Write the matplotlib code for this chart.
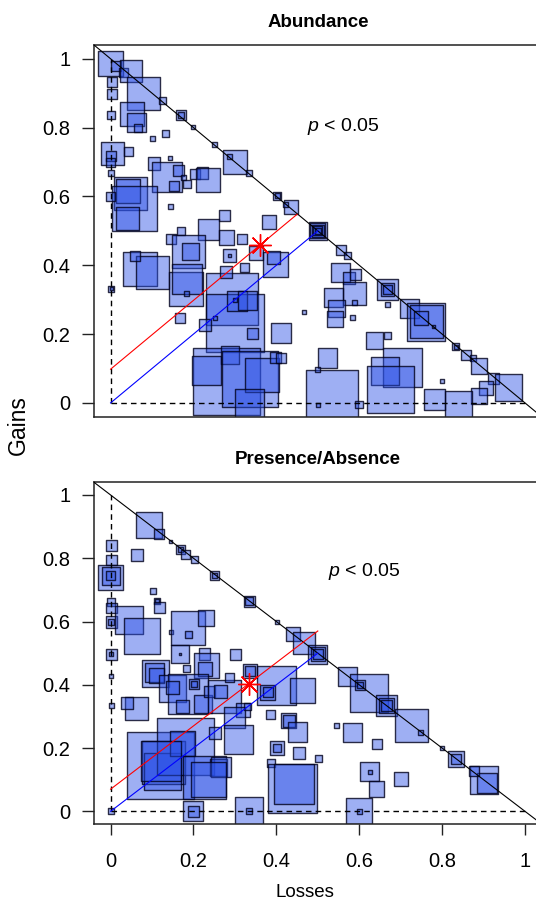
import numpy as np
import matplotlib
matplotlib.use("Agg")
from matplotlib import pyplot as plt

plt.rcParams['font.family'] = ['Liberation Sans', 'DejaVu Sans']
plt.rcParams['mathtext.fontset'] = 'custom'
plt.rcParams['mathtext.it'] = 'Liberation Sans:italic'
plt.rcParams['mathtext.rm'] = 'Liberation Sans'

# Abundance: losses, gains and relative weight of each site pair
ab_loss = [0.001, 0.012, 0.03, 0.049, 0.08, 0.051, 0.063, 0.065, 0.003, 0.003,
           0.002, 0.126, 0.169, 0.169, 0.2, 0.251, 0.301, 0.287, 0.334, 0.132,
           0.102, 0.005, 0.043, 0.002, 0.0, 0.0, 0.144, 0.105, 0.137, 0.165,
           0.175, 0.185, 0.153, 0.204, 0.222, 0.236, 0.048, 0.041, 0.058, 0.04,
           0.0, 0.144, 0.274, 0.236, 0.279, 0.316, 0.169, 0.145, 0.189, 0.194,
           0.071, 0.1, 0.059, 0.181, 0.185, 0.182, 0.168, 0.293, 0.301, 0.304,
           0.33, 0.3, 0.251, 0.227, 0.342, 0.279, 0.322, 0.287, 0.287, 0.351,
           0.28, 0.231, 0.288, 0.337, 0.366, 0.334, 0.398, 0.41, 0.002, 0.002,
           0.5, 0.5, 0.5, 0.5, 0.5, 0.557, 0.571, 0.555, 0.575, 0.59,
           0.589, 0.539, 0.545, 0.542, 0.588, 0.584, 0.467, 0.667, 0.667, 0.667,
           0.667, 0.722, 0.762, 0.762, 0.75, 0.778, 0.833, 0.833, 0.857, 0.875,
           0.888, 0.924, 0.959, 0.906, 0.888, 0.839, 0.782, 0.8, 0.637, 0.667,
           0.704, 0.663, 0.676, 0.524, 0.535, 0.5, 0.5, 0.6, 0.41, 0.399,
           0.394, 0.382, 0.402, 0.402, 0.435, 0.422]
ab_gain = [0.986, 0.98, 0.96, 0.964, 0.898, 0.84, 0.815, 0.8, 0.932, 0.898,
           0.837, 0.878, 0.837, 0.837, 0.803, 0.751, 0.701, 0.717, 0.667, 0.784,
           0.769, 0.725, 0.73, 0.717, 0.698, 0.667, 0.713, 0.695, 0.656, 0.676,
           0.655, 0.637, 0.629, 0.665, 0.668, 0.648, 0.608, 0.615, 0.564, 0.537,
           0.6, 0.572, 0.546, 0.503, 0.481, 0.475, 0.5, 0.476, 0.439, 0.44,
           0.388, 0.378, 0.427, 0.33, 0.36, 0.317, 0.248, 0.303, 0.232, 0.295,
           0.298, 0.298, 0.248, 0.225, 0.202, 0.38, 0.393, 0.428, 0.428, 0.435,
           0.061, 0.093, 0.14, 0.069, 0.081, -0.002, 0.132, 0.13, 0.332, 0.332,
           0.5, 0.5, 0.5, 0.5, 0.5, 0.443, 0.427, 0.38, 0.364, 0.373,
           0.317, 0.305, 0.273, 0.245, 0.291, 0.248, 0.265, 0.331, 0.331, 0.331,
           0.285, 0.275, 0.236, 0.236, 0.247, 0.222, 0.163, 0.163, 0.139, 0.13,
           0.108, 0.071, 0.046, 0.044, 0.019, -0.005, 0.009, 0.063, 0.18, 0.197,
           0.102, 0.093, 0.039, 0.131, 0.02, 0.096, -0.005, -0.005, 0.202, 0.402,
           0.423, 0.525, 0.602, 0.602, 0.568, 0.578]
ab_wt = [25, 10, 9, 22, 33, 24, 19, 8, 10, 10,
         8, 7, 10, 6, 4, 5, 24, 5, 6, 7,
         5, 23, 9.5, 10, 9, 6, 4, 12.7, 30, 11,
         5, 8, 10, 10.7, 11.7, 24, 33, 24, 45, 23,
         8.5, 5, 11, 21, 15, 10, 8, 10, 33, 17,
         34, 33, 10, 34, 30, 5, 10, 52, 58, 20,
         19, 4, 4, 12, 11, 12.5, 9, 13, 3, 14,
         67, 29, 18, 56, 34, 29, 11, 10, 6, 3,
         18, 15, 12, 9, 6, 10, 7, 19, 12, 11,
         23, 19, 17, 16, 5, 5, 4, 21, 13, 9,
         5, 19, 38, 33, 14, 3, 7, 4, 10, 6,
         16, 11.5, 27, 14, 16, 27, 21, 4, 17, 7,
         39, 28, 47, 19.5, 52, 5, 4, 7.5, 20, 25,
         13, 14, 8, 5, 14, 5]

# Presence/Absence
pa_loss = [0.092, 0.118, 0.145, 0.168, 0.168, 0.181, 0.202, 0.251, 0.251, 0.335,
           0.335, 0.002, 0.002, 0.064, 0.001, 0.001, 0.001, 0.102, 0.112, 0.112,
           0.118, 0.002, 0.002, 0.002, 0.002, 0.044, 0.075, 0.145, 0.188, 0.189,
           0.231, 0.168, 0.168, 0.301, 0.002, 0.002, 0.227, 0.231, 0.227, 0.184,
           0.108, 0.106, 0.11, 0.149, 0.188, 0.15, 0.202, 0.202, 0.222, 0.174,
           0.239, 0.275, 0.265, 0.286, 0.32, 0.3, 0.337, 0.337, 0.33, 0.308,
           0.063, 0.04, 0.002, 0.002, 0.12, 0.128, 0.125, 0.18, 0.174, 0.121,
           0.226, 0.251, 0.261, 0.267, 0.237, 0.2, 0.2, 0.334, 0.334, 0.0,
           0.402, 0.439, 0.466, 0.5, 0.5, 0.5, 0.401, 0.379, 0.379, 0.462,
           0.571, 0.624, 0.601, 0.601, 0.666, 0.666, 0.666, 0.727, 0.749, 0.799,
           0.833, 0.833, 0.9, 0.909, 0.876, 0.43, 0.43, 0.451, 0.386, 0.545,
           0.583, 0.643, 0.402, 0.402, 0.455, 0.501, 0.386, 0.438, 0.443, 0.625,
           0.625, 0.642, 0.7, 0.6, 0.6]
pa_gain = [0.904, 0.878, 0.853, 0.828, 0.828, 0.813, 0.796, 0.747, 0.747, 0.664,
           0.664, 0.841, 0.794, 0.809, 0.739, 0.745, 0.745, 0.696, 0.665, 0.665,
           0.645, 0.662, 0.643, 0.598, 0.598, 0.605, 0.554, 0.568, 0.58, 0.558,
           0.611, 0.498, 0.498, 0.496, 0.496, 0.496, 0.497, 0.46, 0.45, 0.452,
           0.436, 0.438, 0.43, 0.388, 0.372, 0.39, 0.401, 0.401, 0.338, 0.33,
           0.378, 0.363, 0.38, 0.423, 0.319, 0.297, 0.445, 0.445, 0.33, 0.228,
           0.325, 0.343, 0.427, 0.333, 0.144, 0.155, 0.126, 0.206, 0.216, 0.16,
           0.108, 0.249, 0.139, 0.139, 0.1, 0.0, 0.0, 0.0, 0.0, 0.0,
           0.599, 0.559, 0.531, 0.497, 0.497, 0.497, 0.399, 0.377, 0.377, 0.383,
           0.427, 0.374, 0.398, 0.398, 0.334, 0.334, 0.334, 0.271, 0.249, 0.199,
           0.166, 0.166, 0.099, 0.089, 0.126, 0.287, 0.287, 0.25, 0.307, 0.272,
           0.25, 0.213, 0.201, 0.201, 0.183, 0.166, 0.154, 0.071, 0.087, 0.125,
           0.125, 0.071, 0.101, 0.001, 0.001]
pa_wt = [26, 10, 3, 9, 5, 9, 7, 9, 5, 11,
         8, 11, 10.7, 12, 25, 18, 9, 6, 6, 4,
         10.5, 8, 10.5, 11.5, 6, 28, 36, 4, 34, 7,
         16, 18, 2, 11, 11, 4, 11.5, 25, 14, 7,
         27, 19, 15, 27, 40, 13, 10, 6, 18, 13,
         11, 33, 13, 9, 14, 21, 14, 10, 7, 29,
         23, 12, 4, 5, 67, 43, 37, 57, 25, 40,
         43, 12, 17, 20, 35, 20, 11, 28, 6, 6,
         4, 14, 22, 19, 14, 10, 39, 15, 10, 25,
         19, 38, 10, 6, 21, 15, 11, 33, 5, 4,
         16, 10, 28, 20, 10, 15, 12, 19.5, 9, 5,
         19, 10, 13.5, 8, 12, 7, 8, 49, 40, 19,
         4, 15.5, 14, 26, 5]

# mean offset of gains over losses, and centroid of the cloud
panels = [
    dict(title="Abundance", loss=ab_loss, gain=ab_gain, wt=ab_wt,
         offset=0.098, red_end=0.45, centroid=(0.361, 0.459), ptxt=(0.561, 0.804)),
    dict(title="Presence/Absence", loss=pa_loss, gain=pa_gain, wt=pa_wt,
         offset=0.07, red_end=0.5, centroid=(0.333, 0.403), ptxt=(0.612, 0.758)),
]
yticks = [0, 0.2, 0.4, 0.6, 0.8, 1]
ticklabels = ["0", "0.2", "0.4", "0.6", "0.8", "1"]

W, H = 536, 902
fig = plt.figure(figsize=(W / 100, H / 100), dpi=100)
boxes = [[94, 45, 541.6, 416.7], [94, 482.3, 541.6, 824]]

fill = (0.16, 0.31, 0.9, 0.45)
edge = (0.0, 0.0, 0.1, 0.8)

for k, (p, b) in enumerate(zip(panels, boxes)):
    ax = fig.add_axes([b[0] / W, 1 - b[3] / H, (b[2] - b[0]) / W, (b[3] - b[1]) / H])
    ax.set_xlim(-0.04, 1.04)
    ax.set_ylim(-0.04, 1.04)

    side = np.array(p["wt"]) * 0.72  # pixels -> points
    ax.scatter(p["loss"], p["gain"], s=side ** 2, marker='s',
               facecolor=fill, edgecolor=edge, linewidths=1.0, zorder=2)

    ax.plot([-0.04, 1.04], [1.04, -0.04], color='black', lw=0.8, zorder=3)
    ax.plot([0, 0], [0, 1], color='black', lw=1.0, ls=(0, (4, 3)), zorder=3)
    ax.plot([0, 1], [0, 0], color='black', lw=1.0, ls=(0, (4, 3)), zorder=3)
    ax.plot([0, 0.5], [0, 0.5], color='#0000ff', lw=0.8, zorder=4)
    d = p["offset"]
    ax.plot([0, p["red_end"]], [d, p["red_end"] + d], color='#ff0000', lw=0.8, zorder=4)
    ax.plot(*p["centroid"], marker=(8, 2, 0), ms=16, mew=1.0, color='#ff0000', zorder=5)

    ax.text(*p["ptxt"], r"$p$ < 0.05", fontsize=14, ha='center', va='center')

    ax.spines['right'].set_visible(False)
    for s in ['left', 'bottom', 'top']:
        ax.spines[s].set_linewidth(1.1)
        ax.spines[s].set_color('#222222')
    ax.set_yticks(yticks)
    ax.set_yticklabels(ticklabels)
    ax.tick_params(axis='y', direction='out', length=8.5, width=1, pad=8.5,
                   labelsize=14.5, color='#222222')
    if k == 1:
        ax.set_xticks(yticks)
        ax.set_xticklabels(ticklabels)
        ax.tick_params(axis='x', direction='out', length=8, width=1, pad=12,
                       labelsize=14.5, color='#222222')
    else:
        ax.set_xticks([])

    cx = (b[0] + b[2]) / 2 / W
    fig.text(cx, 1 - (b[1] - 18) / H, p["title"], fontsize=13.5, fontweight='bold',
             ha='center', va='baseline')

fig.text(18 / W, 1 - 425 / H, "Gains", fontsize=16.5, rotation=90, ha='center', va='center')
fig.text(305 / W, 1 - 897 / H, "Losses", fontsize=13.5, ha='center', va='baseline')

fig.savefig("out.png", dpi=100)
